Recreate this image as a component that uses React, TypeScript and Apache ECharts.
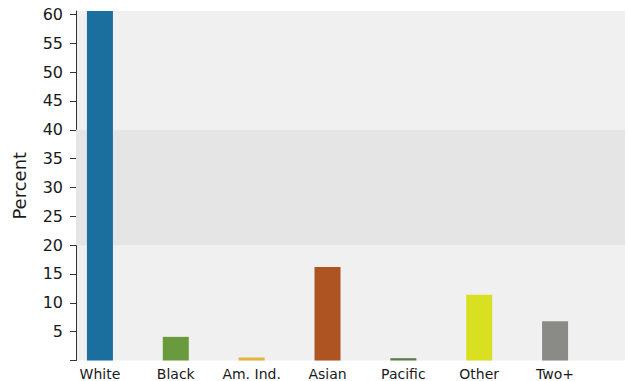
import React, { useEffect, useRef } from "react";
import * as echarts from "echarts";

const categories = ["White", "Black", "Am. Ind.", "Asian", "Pacific", "Other", "Two+"];
const values = [60.6, 4.1, 0.5, 16.2, 0.4, 11.4, 6.8];
const colors = ["#1a6f9f", "#6a9a3e", "#e3b43c", "#ae5322", "#5e7d4e", "#d9e021", "#8a8a86"];
const bandRange = [20, 40];
const yMax = 60.6;

export default function App() {
  const ref = useRef<HTMLDivElement>(null);
  useEffect(() => {
    const chart = echarts.init(ref.current!, null, { renderer: "svg" });
    const font = "DejaVu Sans, Verdana, sans-serif";
    chart.setOption({
      animation: false,
      grid: [
        { left: 76, right: 3, top: 11, bottom: 20.5, show: true, backgroundColor: "#f0f0f0", borderWidth: 0 },
        { left: 62, right: 35, top: 11, bottom: 20.5, show: false },
      ],
      xAxis: [
        { type: "value", gridIndex: 0, min: 0, max: 1, show: false },
        {
          type: "category",
          gridIndex: 1,
          data: categories,
          axisLine: { show: false },
          axisTick: { show: false },
          axisLabel: { color: "#1a1a1a", fontFamily: font, fontSize: 14, margin: 6, interval: 0 },
        },
      ],
      yAxis: [
        {
          type: "value",
          gridIndex: 0,
          min: 0,
          max: yMax,
          interval: 5,
          name: "Percent",
          nameLocation: "middle",
          nameGap: 48,
          nameTextStyle: { color: "#1a1a1a", fontFamily: font, fontSize: 18 },
          axisLine: { show: true, lineStyle: { color: "#333", width: 1 } },
          axisTick: { show: true, length: 6, lineStyle: { color: "#333" } },
          axisLabel: {
            color: "#1a1a1a",
            fontFamily: font,
            fontSize: 16,
            margin: 13,
            showMaxLabel: false,
            formatter: (v: number) => (v === 0 || v % 5 !== 0 ? "" : String(v)),
          },
          splitLine: { show: false },
        },
        { type: "value", gridIndex: 1, min: 0, max: yMax, show: false },
      ],
      series: [
        {
          type: "line",
          xAxisIndex: 0,
          yAxisIndex: 0,
          data: [],
          silent: true,
          markArea: {
            silent: true,
            itemStyle: { color: "#e5e5e5" },
            data: [[{ xAxis: 0, yAxis: bandRange[0] }, { xAxis: 1, yAxis: bandRange[1] }]],
          },
        },
        {
          type: "bar",
          xAxisIndex: 1,
          yAxisIndex: 1,
          barWidth: 26,
          z: 3,
          data: values.map((v, i) => ({ value: v, itemStyle: { color: colors[i] } })),
        },
      ],
    });
    return () => chart.dispose();
  }, []);
  return <div ref={ref} style={{ width: 628, height: 381, position: "absolute", left: 0, top: 0 }} />;
}
